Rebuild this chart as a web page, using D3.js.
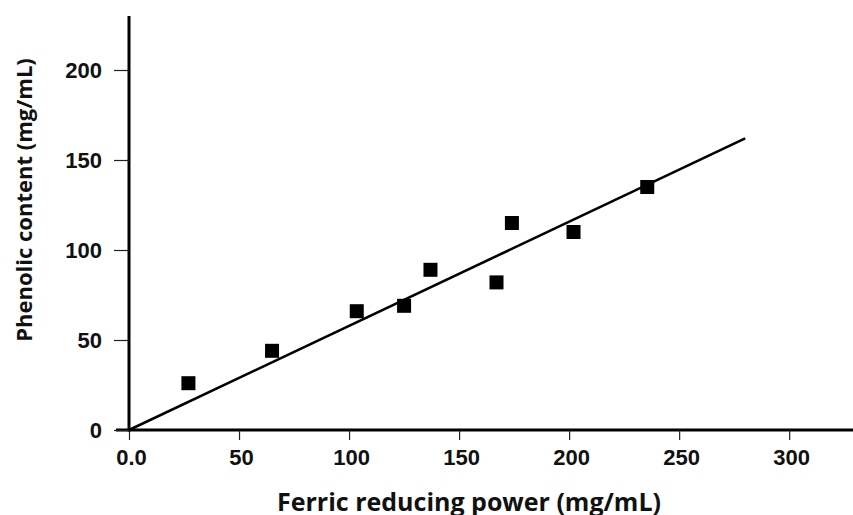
<!DOCTYPE html>
<html>
<head>
<meta charset="utf-8">
<script src="https://cdn.jsdelivr.net/npm/d3@7"></script>
<style>
  body { margin: 0; background: #fff; }
  svg { display: block; font-family: "Open Sans", "Noto Sans", sans-serif; font-weight: 700; }
  .tick-label { font-size: 22px; fill: #111; }
  .x-title { font-size: 25px; fill: #111; }
  .y-title { font-size: 22px; fill: #111; }
</style>
</head>
<body>
<svg id="chart" width="853" height="515"></svg>
<script>
// measured points (ferric reducing power vs phenolic content)
const frpValues = [27, 65, 103.5, 125, 137, 167, 174, 202, 235.5];
const phenolicValues = [26, 44, 66, 69, 89, 82, 115, 110, 135];

// regression line end points
const fitX = [0, 280];
const fitY = [0, 162];

const xTicks = [0, 50, 100, 150, 200, 250, 300];
const xTickLabels = ["0.0", "50", "100", "150", "200", "250", "300"];
const yTicks = [0, 50, 100, 150, 200];
const yTickLabels = ["0", "50", "100", "150", "200"];

const xTitle = "Ferric reducing power (mg/mL)";
const yTitle = "Phenolic content (mg/mL)";

const dims = { width: 853, height: 515, margin: { top: 16, right: 0, bottom: 85, left: 129 } };

const svg = d3.select("#chart");

const x = d3.scaleLinear()
  .domain([0, 329])
  .range([dims.margin.left, dims.width - dims.margin.right]);

const y = d3.scaleLinear()
  .domain([0, 230])
  .range([dims.height - dims.margin.bottom, dims.margin.top]);

function writeAxes() {
  // x axis, ticks pointing down
  const gx = svg.append("g")
    .attr("transform", `translate(0,${y(0)})`)
    .call(d3.axisBottom(x).tickValues(xTicks).tickSize(10).tickSizeOuter(0)
      .tickFormat((d, i) => xTickLabels[i]));
  gx.select(".domain").attr("stroke", "#000").attr("stroke-width", 3);
  gx.selectAll(".tick line").attr("stroke", "#222").attr("stroke-width", 1.2);
  gx.selectAll(".tick text")
    .attr("class", "tick-label")
    .attr("x", 2)
    .attr("y", 35)
    .attr("dy", 0)
    .attr("font-size", null)
    .attr("font-family", null);

  // y axis, ticks pointing left
  const gy = svg.append("g")
    .attr("transform", `translate(${x(0)},0)`)
    .call(d3.axisLeft(y).tickValues(yTicks).tickSize(15).tickSizeOuter(0)
      .tickFormat((d, i) => yTickLabels[i]));
  gy.select(".domain").attr("stroke", "#000").attr("stroke-width", 3);
  gy.selectAll(".tick line").attr("stroke", "#222").attr("stroke-width", 1.2);
  gy.selectAll(".tick text")
    .attr("class", "tick-label")
    .attr("x", -27)
    .attr("font-size", null)
    .attr("font-family", null);

  // the y axis line runs a bit above the domain in the original
  gy.select(".domain").attr("d", `M0,${dims.margin.top}V${y(0) + 1.5}`);
  gx.select(".domain").attr("d", `M${x(0) - 13},0H${dims.width}`);
}

function writeTitles() {
  svg.append("text")
    .attr("class", "x-title")
    .attr("x", 469)
    .attr("y", 511)
    .attr("text-anchor", "middle")
    .text(xTitle);

  svg.append("text")
    .attr("class", "y-title")
    .attr("transform", "translate(32,200) rotate(-90)")
    .attr("text-anchor", "middle")
    .text(yTitle);
}

function writeFit() {
  const line = d3.line()
    .x(d => x(d[0]))
    .y(d => y(d[1]));
  svg.append("path")
    .datum(d3.zip(fitX, fitY))
    .attr("fill", "none")
    .attr("stroke", "#000")
    .attr("stroke-width", 2.6)
    .attr("d", line);
}

function writePoints() {
  const s = 14;
  svg.append("g")
    .attr("fill", "#000")
    .selectAll("rect")
    .data(d3.zip(frpValues, phenolicValues))
    .enter()
    .append("rect")
      .attr("x", d => x(d[0]) - s / 2)
      .attr("y", d => y(d[1]) - s / 2)
      .attr("width", s)
      .attr("height", s);
}

writeFit();
writeAxes();
writePoints();
writeTitles();
</script>
</body>
</html>
